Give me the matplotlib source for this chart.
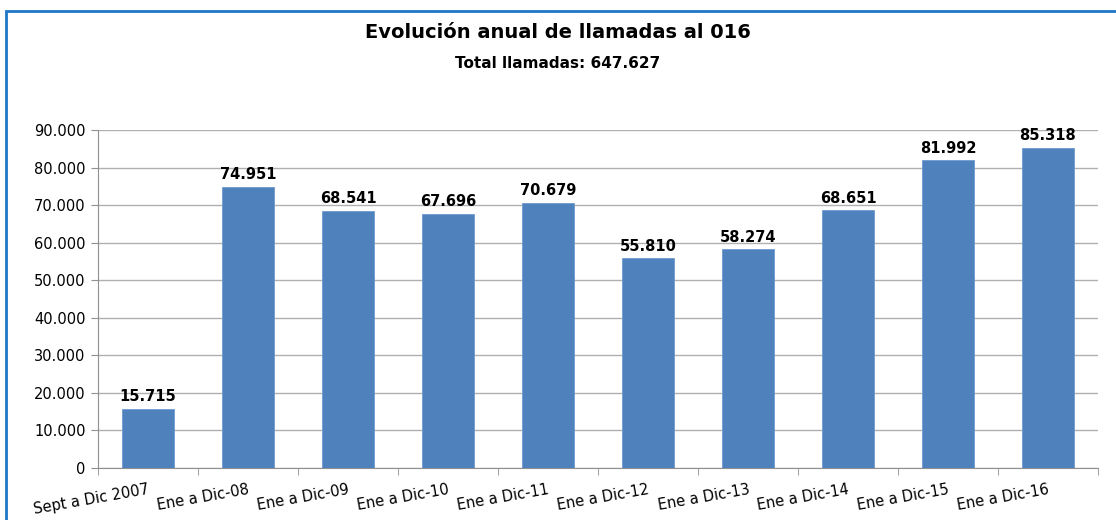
import matplotlib
matplotlib.use("Agg")
import matplotlib.pyplot as plt
from matplotlib.ticker import FuncFormatter, FixedLocator
from matplotlib.patches import Rectangle

categories = ["Sept a Dic 2007", "Ene a Dic-08", "Ene a Dic-09", "Ene a Dic-10",
              "Ene a Dic-11", "Ene a Dic-12", "Ene a Dic-13", "Ene a Dic-14",
              "Ene a Dic-15", "Ene a Dic-16"]
values = [15715, 74951, 68541, 67696, 70679, 55810, 58274, 68651, 81992, 85318]
title = "Evolución anual de llamadas al 016"
subtitle = "Total llamadas: 647.627"

plt.rcParams['font.family'] = ['DejaVu Sans']

W, H = 1116, 520
fig = plt.figure(figsize=(W / 100, H / 100), dpi=100)

# outer border (blue), extends off right and bottom
fig.patches.append(Rectangle((6 / W, -0.05), 1.2, 1 - 11 / H + 0.05,
                             transform=fig.transFigure, fill=False,
                             edgecolor="#1f77c8", linewidth=2))

ax = fig.add_axes([98 / W, 1 - 468 / H, 1000 / W, (468 - 130) / H])

def fmt(v):
    return f"{int(round(v)):,}".replace(",", ".")

x = list(range(len(categories)))
bars = ax.bar(x, values, width=0.52, color="#4F81BD", edgecolor="#6f9bd0",
              linewidth=0.6, zorder=3)
for xi, v in zip(x, values):
    ax.text(xi, v + 1200, fmt(v), ha="center", va="bottom",
            fontsize=10.5, fontweight="bold", color="black", zorder=4)

ax.set_xlim(-0.5, len(categories) - 0.5)
ax.set_ylim(0, 90000)
ax.set_yticks(range(0, 90001, 10000))
ax.yaxis.set_major_formatter(FuncFormatter(lambda v, p: fmt(v)))
ax.grid(axis="y", color="#b0b0b0", linewidth=1, zorder=0)

ax.set_xticks(x)
ax.set_xticklabels(categories, rotation=10, ha="right", rotation_mode="anchor",
                   fontsize=10.5)
ax.tick_params(axis="x", length=0, pad=10)
ax.xaxis.set_minor_locator(FixedLocator([i + 0.5 for i in range(-1, len(categories))]))
ax.tick_params(axis="x", which="minor", length=5, color="#909090")
ax.tick_params(axis="y", length=5, color="#909090", labelsize=10.5, pad=4)

for s in ["top", "right"]:
    ax.spines[s].set_visible(False)
for s in ["left", "bottom"]:
    ax.spines[s].set_color("#909090")

fig.text(0.5, 1 - 32 / H, title, ha="center", va="center",
         fontsize=14, fontweight="bold")
fig.text(0.5, 1 - 63 / H, subtitle, ha="center", va="center",
         fontsize=11, fontweight="bold")

fig.savefig("out.png", dpi=100)
